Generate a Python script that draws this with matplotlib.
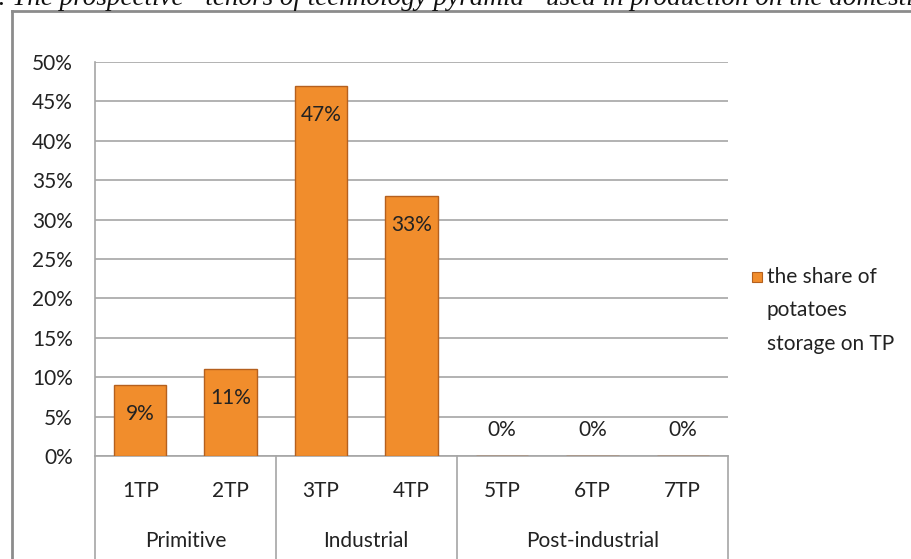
import matplotlib
matplotlib.use("Agg")
import matplotlib.pyplot as plt
from matplotlib.lines import Line2D
from matplotlib.patches import Rectangle
from matplotlib.transforms import blended_transform_factory

plt.rcParams["font.family"] = ["Lato", "DejaVu Sans"]

# Data
categories = ["1TP", "2TP", "3TP", "4TP", "5TP", "6TP", "7TP"]
shares = [9, 11, 47, 33, 0, 0, 0]
groups = ["Primitive", "Industrial", "Post-industrial"]
group_spans = [(0, 1), (2, 3), (4, 6)]
yticks = list(range(0, 55, 5))
legend_label = ["the share of", "potatoes", "storage on TP"]
caption = "2. The prospective \u201ctenors of technology pyramid\u201d used in production on the domestic"

W, H = 912, 559
FS = 15
fig = plt.figure(figsize=(W / 100, H / 100), dpi=100)

def px(x, y):
    return x / W, 1 - y / H

# plot area
l, t = px(95, 62)
r, b = px(728, 456)
ax = fig.add_axes([l, b, r - l, t - b])

bar_face = "#F18D2C"
bar_edge = "#B5601E"
x = list(range(len(categories)))
ax.bar(x, shares, width=0.58, color=bar_face, edgecolor=bar_edge, linewidth=1.0, zorder=3)

for xi, v in zip(x, shares):
    off = -21 if v > 0 else 19
    ax.annotate(f"{v}%", (xi, v), xytext=(0, off), textcoords="offset points",
                ha="center", va="center", fontsize=FS, color="#222222", zorder=4)

ax.set_xlim(-0.5, len(categories) - 0.5)
ax.set_ylim(0, 50)
ax.set_yticks(yticks)
ax.set_yticklabels([f"{v}%" for v in yticks], fontsize=FS, color="#222222")
ax.tick_params(axis="y", length=0, pad=16)
ax.set_xticks([])
ax.grid(axis="y", color="#A6A6A6", linewidth=1.2, zorder=0)
for s in ["top", "right"]:
    ax.spines[s].set_visible(False)
for s in ["left", "bottom"]:
    ax.spines[s].set_color("#A6A6A6")
    ax.spines[s].set_linewidth(1.2)

# multi-level category axis
tr = blended_transform_factory(ax.transData, ax.transAxes)
for xi, c in zip(x, categories):
    ax.text(xi, -0.089, c, transform=tr, ha="center", va="center", fontsize=FS, color="#222222")
for g, (a0, a1) in zip(groups, group_spans):
    ax.text((a0 + a1) / 2, -0.216, g, transform=tr, ha="center", va="center", fontsize=FS, color="#222222")
for a0, a1 in group_spans:
    ax.plot([a1 + 0.5, a1 + 0.5], [0, -0.4], transform=tr, color="#A6A6A6", lw=1.2, clip_on=False)
ax.plot([-0.5, -0.5], [0, -0.4], transform=tr, color="#A6A6A6", lw=1.2, clip_on=False)

# legend
mx, my = px(752, 282)
fig.add_artist(Rectangle((mx, my), 10 / W, 10 / H, transform=fig.transFigure,
                         facecolor=bar_face, edgecolor=bar_edge, lw=0.8))
for i, line in enumerate(legend_label):
    tx, ty = px(767, 277 + i * 33.5)
    fig.text(tx, ty, line, ha="left", va="center", fontsize=FS, color="#222222")

# chart frame
x0, y0 = px(12, 11)
fig.add_artist(Line2D([x0, x0], [y0, 0], transform=fig.transFigure, color="#8C8C8C", lw=2))
fig.add_artist(Line2D([x0, 1], [y0, y0], transform=fig.transFigure, color="#8C8C8C", lw=2))

# clipped caption at the top
cx, cy = px(-15, 5)
fig.text(cx, cy, caption, ha="left", va="baseline", fontsize=19.5, style="italic",
         family="Liberation Serif", color="#111111")

fig.savefig("out.png", dpi=100)
